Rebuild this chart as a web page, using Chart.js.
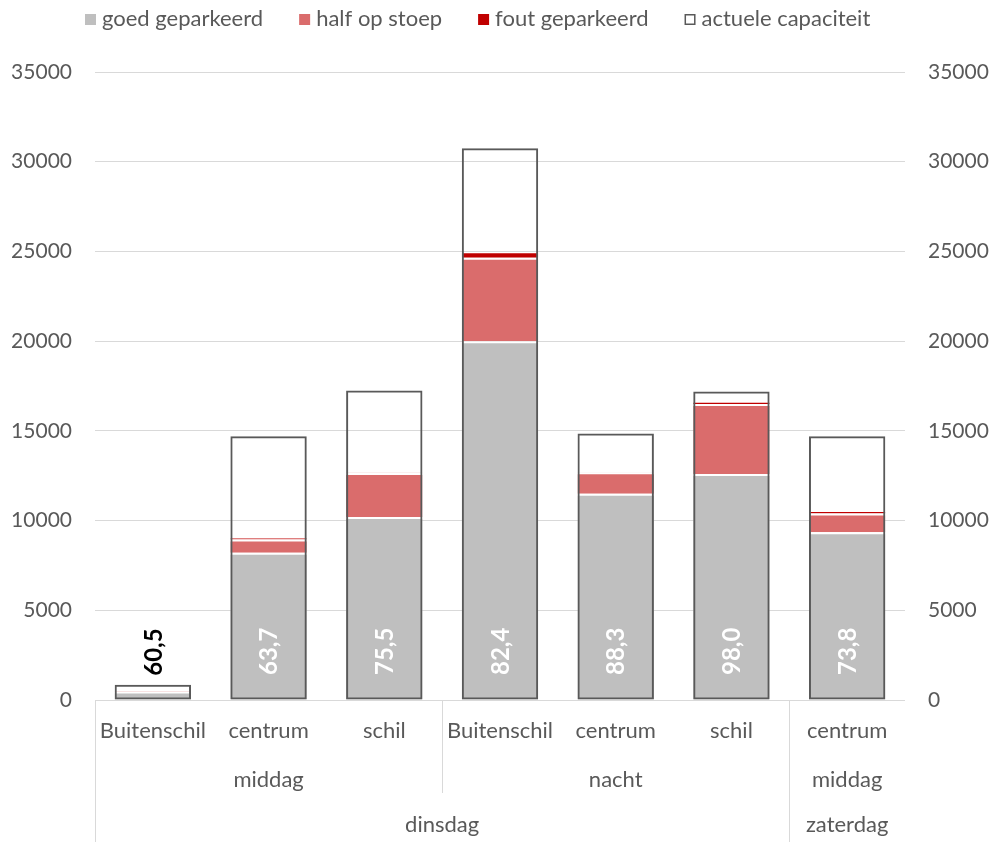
<!DOCTYPE html>
<html>
<head>
<meta charset="utf-8">
<script src="https://cdn.jsdelivr.net/npm/chart.js@4.4.1/dist/chart.umd.min.js"></script>
<style>
  html, body { margin: 0; padding: 0; background: #fff; }
</style>
</head>
<body>
<canvas id="bar-canvas" width="992" height="842"></canvas>
<script>
// categories (level 1), time of day (level 2), day (level 3)
var gebied = ["Buitenschil", "centrum", "schil", "Buitenschil", "centrum", "schil", "centrum"];
var dagdeel = [["middag", 0, 2], ["nacht", 3, 5], ["middag", 6, 6]];
var dag = [["dinsdag", 0, 5], ["zaterdag", 6, 6]];

// series values (number of cars)
var goed = [480, 8200, 10200, 20000, 11500, 12600, 9350];
var halfStoep = [30, 750, 2450, 4650, 1200, 3900, 1050];
var fout = [5, 110, 20, 300, 20, 120, 130];
var capaciteit = [850, 14700, 17250, 30750, 14850, 17200, 14700];

// occupancy percentage labels
var bezetting = [60.5, 63.7, 75.5, 82.4, 88.3, 98.0, 73.8];

var yTicks = [0, 5000, 10000, 15000, 20000, 25000, 30000, 35000];

var fontFam = "Lato, 'Open Sans', sans-serif";
var fontSize = 22;
var grey = "#595959";
var lineCol = "#d9d9d9";

// draws legend, the percentages and the multi level axis
var extraPlugin = {
  id: "extra",
  afterDatasetsDraw: function(chart) {
    var ctx = chart.ctx;
    var meta0 = chart.getDatasetMeta(0);
    var metaCap = chart.getDatasetMeta(3);
    var base = chart.scales.y.getPixelForValue(0);
    ctx.save();
    ctx.font = "bold 24px " + fontFam;
    ctx.textBaseline = "middle";
    ctx.textAlign = "left";
    for (var i = 0; i < bezetting.length; i++) {
      var bar = meta0.data[i];
      var txt = bezetting[i].toFixed(1).replace(".", ",");
      var w = ctx.measureText(txt).width;
      var start, col;
      if (base - bar.y > w + 30) {
        start = base - 25;
        col = "#ffffff";
      } else {
        start = metaCap.data[i].y - 9;
        col = "#000000";
      }
      ctx.save();
      ctx.translate(bar.x, start);
      ctx.rotate(-Math.PI / 2);
      ctx.fillStyle = col;
      ctx.fillText(txt, 0, 1);
      ctx.restore();
    }
    ctx.restore();
  },
  afterDraw: function(chart) {
    var ctx = chart.ctx;
    var x = chart.scales.x;
    var area = chart.chartArea;
    var half = (x.getPixelForValue(1) - x.getPixelForValue(0)) / 2;
    ctx.save();
    ctx.font = fontSize + "px " + fontFam;
    ctx.fillStyle = grey;
    ctx.textAlign = "center";
    ctx.textBaseline = "middle";
    dagdeel.forEach(function(g) {
      var mid = (x.getPixelForValue(g[1]) + x.getPixelForValue(g[2])) / 2;
      ctx.fillText(g[0], mid, 780);
    });
    dag.forEach(function(g) {
      var mid = (x.getPixelForValue(g[1]) + x.getPixelForValue(g[2])) / 2;
      ctx.fillText(g[0], mid, 825);
    });
    // separator lines
    ctx.strokeStyle = lineCol;
    ctx.lineWidth = 1;
    var seps = [[area.left, 842], [x.getPixelForValue(2) + half, 793], [x.getPixelForValue(5) + half, 842]];
    seps.forEach(function(s) {
      var px = Math.round(s[0]) + 0.5;
      ctx.beginPath();
      ctx.moveTo(px, area.bottom);
      ctx.lineTo(px, s[1]);
      ctx.stroke();
    });

    // legend
    var lx = 85, ly = 19;
    ctx.textAlign = "left";
    chart.data.datasets.forEach(function(ds, i) {
      if (i === 3) {
        ctx.fillStyle = "#ffffff";
        ctx.fillRect(lx, ly - 5, 11, 11);
        ctx.strokeStyle = grey;
        ctx.lineWidth = 1.5;
        ctx.strokeRect(lx + 0.75, ly - 4.25, 9.5, 9.5);
      } else {
        ctx.fillStyle = ds.backgroundColor;
        ctx.fillRect(lx, ly - 5, 11, 11);
      }
      ctx.fillStyle = grey;
      ctx.fillText(ds.label, lx + 17, ly);
      lx += 17 + ctx.measureText(ds.label).width + 36;
    });
    ctx.restore();
  }
};

var ctx = document.getElementById("bar-canvas");

var chartData = {
  labels: gebied,
  datasets: [{
    label: "goed geparkeerd",
    data: goed,
    backgroundColor: "#bfbfbf",
    borderColor: "#ffffff",
    borderWidth: { top: 2 },
    borderSkipped: false,
    stack: "bezet",
    grouped: false,
    order: 1
  }, {
    label: "half op stoep",
    data: halfStoep,
    backgroundColor: "#da6c6c",
    borderColor: "#ffffff",
    borderWidth: { top: 2 },
    borderSkipped: false,
    stack: "bezet",
    grouped: false,
    order: 2
  }, {
    label: "fout geparkeerd",
    data: fout,
    backgroundColor: "#c00000",
    borderColor: "#ffffff",
    borderWidth: { top: 1 },
    borderSkipped: false,
    stack: "bezet",
    grouped: false,
    order: 3
  }, {
    label: "actuele capaciteit",
    data: capaciteit,
    backgroundColor: "rgba(255,255,255,0)",
    borderColor: grey,
    borderWidth: 2,
    borderSkipped: false,
    stack: "cap",
    grouped: false,
    order: 0
  }]
};

var tickFont = { family: fontFam, size: 21 };

var options = {
  responsive: false,
  animation: false,
  layout: { padding: { top: 72, left: 0, right: 0, bottom: 0 } },
  datasets: {
    bar: { categoryPercentage: 1, barPercentage: 0.66 }
  },
  plugins: {
    tooltip: { enabled: false },
    legend: { display: false }
  },
  scales: {
    x: {
      stacked: true,
      grid: { display: false, drawTicks: false },
      border: { display: false },
      ticks: { color: grey, padding: 18, maxRotation: 0, autoSkip: false, font: { family: fontFam, size: fontSize } },
      afterFit: function(s) { s.height = 142; }
    },
    y: {
      stacked: true,
      min: 0,
      max: 35000,
      position: "left",
      grid: { color: lineCol, lineWidth: 1, drawTicks: false },
      border: { display: false },
      ticks: {
        color: grey,
        padding: 23,
        stepSize: 5000,
        font: tickFont,
        callback: function(v) { return yTicks.indexOf(v) >= 0 ? String(v) : ""; }
      },
      afterFit: function(s) { s.width = 95; }
    },
    y2: {
      min: 0,
      max: 35000,
      position: "right",
      grid: { display: false, drawTicks: false },
      border: { display: false },
      ticks: {
        color: grey,
        padding: 23,
        stepSize: 5000,
        font: tickFont,
        callback: function(v) { return yTicks.indexOf(v) >= 0 ? String(v) : ""; }
      },
      afterFit: function(s) { s.width = 87; }
    }
  }
};

var chart = new Chart(ctx, {
  type: "bar",
  data: chartData,
  options: options,
  plugins: [extraPlugin]
});
</script>
</body>
</html>
